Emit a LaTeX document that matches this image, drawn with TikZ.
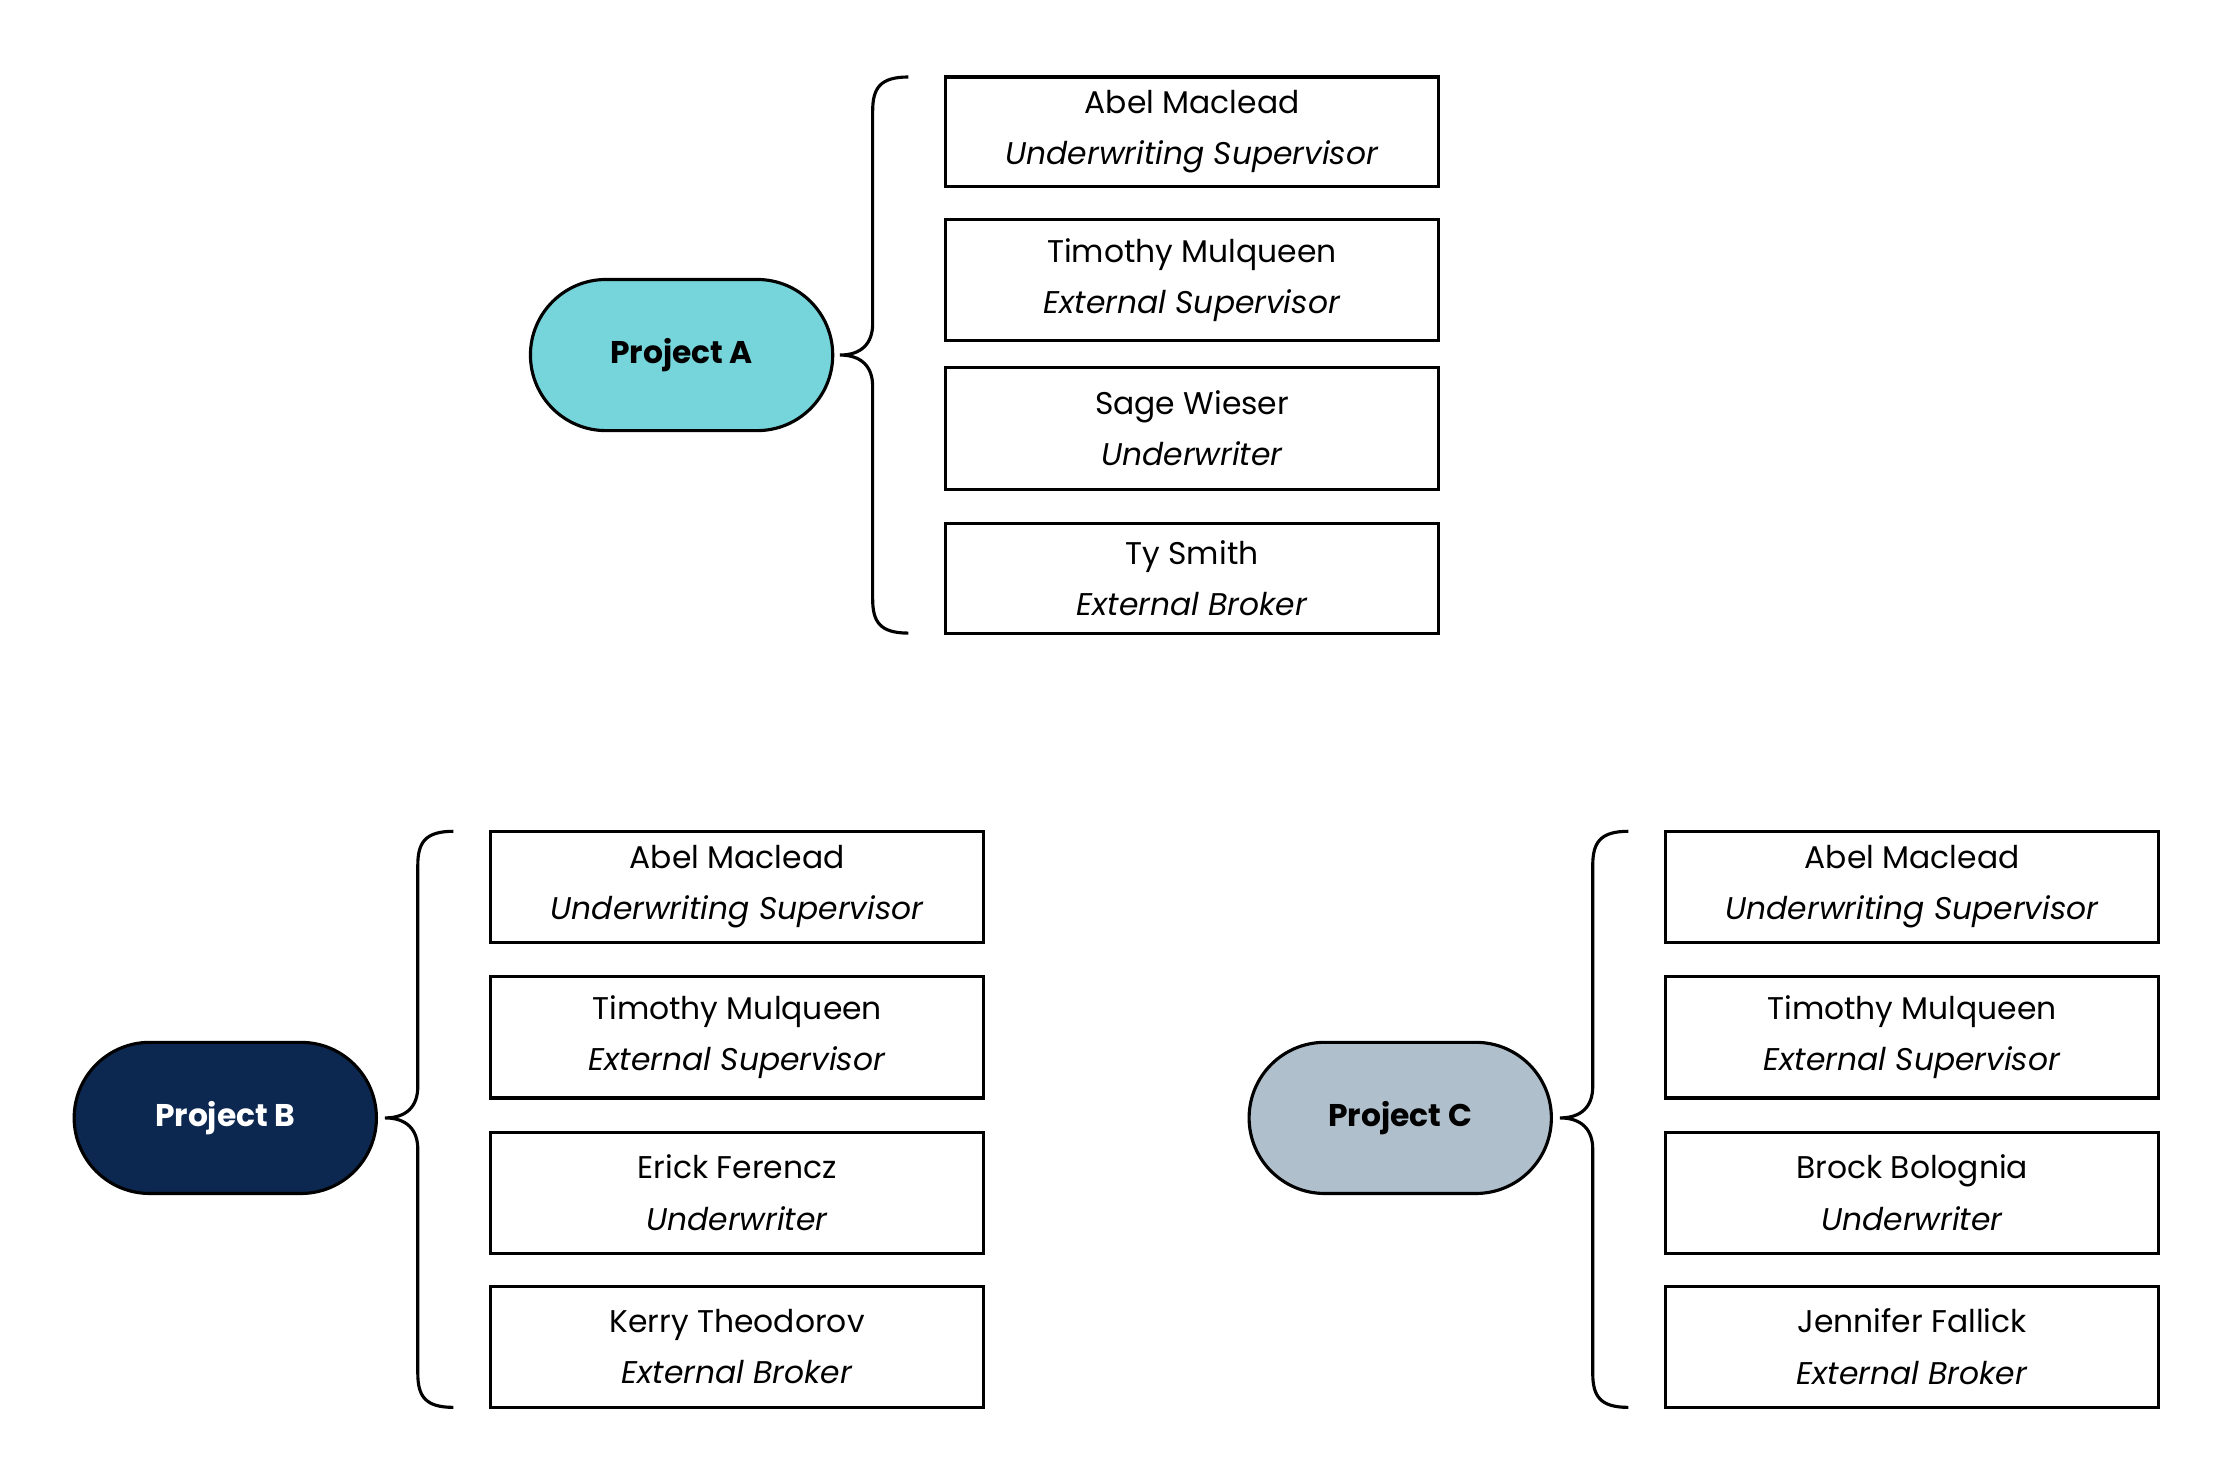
\documentclass[tikz,border=0pt]{standalone}
\usepackage{fontspec}
\setmainfont{Poppins}
\definecolor{cA}{HTML}{76D5DB}
\definecolor{cB}{HTML}{0D2850}
\definecolor{cC}{HTML}{AFBFCC}
\newcommand{\mybrace}[4]{% x, ytop, ybot, ymid
  \draw[line width=2.2pt] (#1+25,#2) .. controls (#1+5,#2) and (#1,#2+8) .. (#1,#2+24) -- (#1,#4-22)
    .. controls (#1,#4-8) and (#1-8,#4) .. (#1-23,#4)
    .. controls (#1-8,#4) and (#1,#4+8) .. (#1,#4+22) -- (#1,#3-24)
    .. controls (#1,#3-8) and (#1+5,#3) .. (#1+25,#3);}
\begin{document}
\begin{tikzpicture}[x=1pt,y=-1pt,
  proj/.style={draw,line width=2.2pt,rounded corners=53pt,minimum width=212pt,minimum height=106pt,font=\fontsize{22}{26}\selectfont\bfseries},
  box/.style={draw,line width=2.2pt,minimum width=346pt,align=center,font=\fontsize{22}{36}\selectfont,inner sep=0pt}]
\useasboundingbox (0,0) rectangle (1552,1029.5);
\node[proj,fill=cA] (pa) at (478,249) {Project A};
\node[proj,fill=cB,text=white] (pb) at (158,784) {Project B};
\node[proj,fill=cC] (pc) at (982,784) {Project C};
% A
\node[box,minimum height=77pt] (a1) at (836,92.5) {Abel Maclead\\\textit{Underwriting Supervisor}};
\node[box,minimum height=85pt] (a2) at (836,196.5) {Timothy Mulqueen\\\textit{External Supervisor}};
\node[box,minimum height=85pt] (a3) at (836,300.5) {Sage Wieser\\\textit{Underwriter}};
\node[box,minimum height=77pt] (a4) at (836,405.5) {Ty Smith\\\textit{External Broker}};
\mybrace{612}{54}{444}{249}
% B
\node[box,minimum height=78pt] (b1) at (517,622) {Abel Maclead\\\textit{Underwriting Supervisor}};
\node[box,minimum height=85pt] (b2) at (517,727.5) {Timothy Mulqueen\\\textit{External Supervisor}};
\node[box,minimum height=85pt] (b3) at (517,836.5) {Erick Ferencz\\\textit{Underwriter}};
\node[box,minimum height=85pt] (b4) at (517,944.5) {Kerry Theodorov\\\textit{External Broker}};
\mybrace{293}{583}{987}{784}
% C
\node[box,minimum height=78pt] (c1) at (1341,622) {Abel Maclead\\\textit{Underwriting Supervisor}};
\node[box,minimum height=85pt] (c2) at (1341,727.5) {Timothy Mulqueen\\\textit{External Supervisor}};
\node[box,minimum height=85pt] (c3) at (1341,836.5) {Brock Bolognia\\\textit{Underwriter}};
\node[box,minimum height=85pt] (c4) at (1341,944.5) {Jennifer Fallick\\\textit{External Broker}};
\mybrace{1117}{583}{987}{784}
\end{tikzpicture}
\end{document}
